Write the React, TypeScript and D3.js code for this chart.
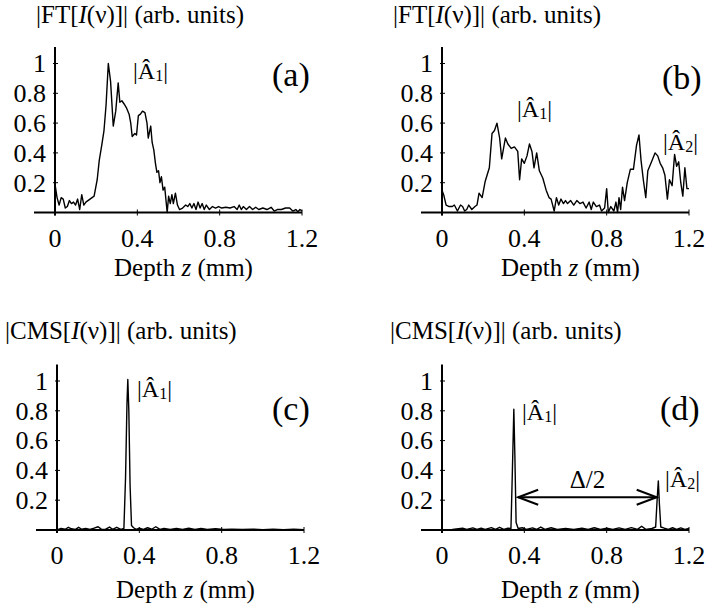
import React, { useEffect, useRef } from 'react';
import * as d3 from 'd3';

// [depth z (mm), amplitude]
const ftSingle: [number, number][] = [
  [0, 0.19], [0.01, 0.1], [0.02, 0.05], [0.03, 0.1], [0.04, 0.09], [0.05, 0.03], [0.06, 0.04], [0.07, 0.08],
  [0.08, 0.06], [0.09, 0.07], [0.1, 0.05], [0.11, 0.09], [0.12, 0.02], [0.13, 0.12], [0.14, 0.05], [0.15, 0.07],
  [0.17, 0.09], [0.19, 0.11], [0.205, 0.22], [0.215, 0.35], [0.227, 0.45], [0.238, 0.55], [0.248, 0.72],
  [0.259, 1.0], [0.27, 0.88], [0.283, 0.58], [0.295, 0.68], [0.307, 0.87], [0.315, 0.74], [0.325, 0.75],
  [0.335, 0.73], [0.348, 0.7], [0.36, 0.66], [0.368, 0.6], [0.375, 0.51], [0.388, 0.53], [0.396, 0.52],
  [0.405, 0.65], [0.415, 0.66], [0.425, 0.68], [0.437, 0.67], [0.447, 0.6], [0.453, 0.5], [0.465, 0.58],
  [0.472, 0.47], [0.48, 0.42], [0.488, 0.33], [0.495, 0.27], [0.503, 0.28], [0.51, 0.2], [0.517, 0.24],
  [0.525, 0.15], [0.533, 0.17], [0.545, 0.0], [0.552, 0.11], [0.56, 0.06], [0.568, 0.12], [0.575, 0.06],
  [0.585, 0.13], [0.595, 0.05], [0.605, 0.02], [0.62, 0.03], [0.635, 0.05], [0.645, 0.04], [0.655, 0.06],
  [0.665, 0.03], [0.675, 0.06], [0.685, 0.02], [0.695, 0.07], [0.705, 0.03], [0.715, 0.06], [0.725, 0.02],
  [0.735, 0.05], [0.75, 0.02], [0.765, 0.04], [0.78, 0.03], [0.795, 0.04], [0.81, 0.03], [0.83, 0.035],
  [0.85, 0.03], [0.87, 0.04], [0.885, 0.02], [0.895, 0.05], [0.905, 0.02], [0.915, 0.04], [0.93, 0.02],
  [0.945, 0.04], [0.96, 0.02], [0.975, 0.035], [0.99, 0.02], [1.01, 0.03], [1.03, 0.02], [1.05, 0.035],
  [1.065, 0.01], [1.08, 0.02], [1.1, 0.02], [1.12, 0.03], [1.14, 0.03], [1.155, 0.01], [1.17, 0.02],
  [1.18, 0.005], [1.19, 0.02], [1.2, 0.01],
];

const ftDouble: [number, number][] = [
  [0, 0.15], [0.008, 0.12], [0.02, 0.05], [0.035, 0.04], [0.05, 0.04], [0.06, 0.05], [0.075, 0.01],
  [0.09, 0.05], [0.1, 0.04], [0.11, 0.01], [0.12, 0.02], [0.13, 0.05], [0.145, 0.02], [0.16, 0.04],
  [0.17, 0.05], [0.18, 0.13], [0.195, 0.1], [0.21, 0.21], [0.23, 0.3], [0.243, 0.53], [0.255, 0.55],
  [0.267, 0.6], [0.28, 0.5], [0.29, 0.36], [0.308, 0.5], [0.32, 0.46], [0.336, 0.43], [0.352, 0.44],
  [0.368, 0.41], [0.377, 0.22], [0.387, 0.36], [0.4, 0.33], [0.413, 0.38], [0.425, 0.46], [0.437, 0.41],
  [0.447, 0.3], [0.46, 0.4], [0.473, 0.28], [0.49, 0.23], [0.506, 0.15], [0.52, 0.1], [0.53, 0.09],
  [0.545, 0.01], [0.556, 0.1], [0.567, 0.05], [0.578, 0.09], [0.59, 0.06], [0.6, 0.08], [0.61, 0.06],
  [0.625, 0.08], [0.64, 0.05], [0.655, 0.08], [0.67, 0.06], [0.685, 0.07], [0.7, 0.03], [0.715, 0.07],
  [0.725, 0.02], [0.735, 0.07], [0.75, 0.04], [0.765, 0.05], [0.775, 0.01], [0.79, 0.03], [0.8, 0.16],
  [0.808, 0.0], [0.82, 0.04], [0.835, 0.01], [0.845, 0.07], [0.853, 0.0], [0.86, 0.1], [0.868, 0.02],
  [0.877, 0.17], [0.887, 0.08], [0.9, 0.2], [0.915, 0.29], [0.93, 0.29], [0.945, 0.45], [0.957, 0.52],
  [0.967, 0.35], [0.978, 0.22], [0.99, 0.1], [1.0, 0.28], [1.018, 0.34], [1.035, 0.4], [1.048, 0.38],
  [1.06, 0.33], [1.072, 0.3], [1.083, 0.25], [1.095, 0.09], [1.105, 0.22], [1.118, 0.18], [1.13, 0.39],
  [1.14, 0.31], [1.15, 0.34], [1.16, 0.2], [1.17, 0.11], [1.18, 0.3], [1.19, 0.16], [1.2, 0.16],
];

const cmsSingle: [number, number][] = [
  [0, 0.0], [0.02, 0.01], [0.04, 0.005], [0.055, 0.018], [0.07, 0.008], [0.09, 0.004], [0.105, 0.018],
  [0.12, 0.005], [0.14, 0.01], [0.16, 0.004], [0.18, 0.012], [0.2, 0.022], [0.215, 0.006], [0.235, 0.004],
  [0.255, 0.02], [0.27, 0.004], [0.29, 0.018], [0.31, 0.004], [0.325, 0.01], [0.333, 0.35], [0.34, 0.85],
  [0.344, 1.01], [0.349, 0.8], [0.355, 0.3], [0.362, 0.03], [0.372, 0.015], [0.385, 0.004], [0.4, 0.012],
  [0.42, 0.004], [0.44, 0.015], [0.46, 0.005], [0.48, 0.022], [0.5, 0.004], [0.52, 0.01], [0.55, 0.004],
  [0.58, 0.01], [0.61, 0.004], [0.64, 0.012], [0.67, 0.004], [0.7, 0.01], [0.73, 0.003], [0.77, 0.008],
  [0.81, 0.003], [0.85, 0.006], [0.9, 0.003], [0.95, 0.006], [1.0, 0.002], [1.05, 0.006], [1.1, 0.002],
  [1.15, 0.005], [1.2, 0.002],
];

const cmsDouble: [number, number][] = [
  [0, 0.0], [0.05, 0.004], [0.1, 0.012], [0.12, 0.004], [0.15, 0.014], [0.17, 0.004], [0.19, 0.012],
  [0.21, 0.004], [0.24, 0.016], [0.26, 0.004], [0.28, 0.018], [0.3, 0.004], [0.32, 0.012], [0.335, 0.01],
  [0.342, 0.4], [0.349, 0.81], [0.354, 0.5], [0.36, 0.05], [0.37, 0.01], [0.39, 0.015], [0.41, 0.004],
  [0.44, 0.014], [0.46, 0.004], [0.48, 0.02], [0.5, 0.004], [0.53, 0.015], [0.56, 0.004], [0.6, 0.01],
  [0.64, 0.004], [0.68, 0.012], [0.71, 0.004], [0.74, 0.015], [0.77, 0.004], [0.8, 0.012], [0.83, 0.004],
  [0.86, 0.014], [0.89, 0.004], [0.92, 0.016], [0.95, 0.004], [0.97, 0.025], [0.99, 0.004], [1.02, 0.01],
  [1.038, 0.02], [1.045, 0.2], [1.051, 0.33], [1.056, 0.18], [1.063, 0.02], [1.08, 0.012], [1.1, 0.004],
  [1.12, 0.015], [1.14, 0.004], [1.16, 0.014], [1.18, 0.004], [1.2, 0.01],
];

const xTicks = [0, 0.4, 0.8, 1.2];
const yTicks = [0.2, 0.4, 0.6, 0.8, 1];
const xLabel = 'Depth z (mm)';

const panels = [
  { data: ftSingle, kind: 'FT', tag: '(a)', x0: 55, base: 212.5, titleX: 36, titleY: 23, tagX: 272, tagY: 86,
    amps: [{ n: '1', x: 133, y: 79 }], depthY: 276 },
  { data: ftDouble, kind: 'FT', tag: '(b)', x0: 442, base: 212.5, titleX: 393, titleY: 23, tagX: 662, tagY: 89,
    amps: [{ n: '1', x: 517, y: 117 }, { n: '2', x: 663, y: 150 }], depthY: 276 },
  { data: cmsSingle, kind: 'CMS', tag: '(c)', x0: 57, base: 530, titleX: 5, titleY: 339, tagX: 272, tagY: 420,
    amps: [{ n: '1', x: 137, y: 397 }], depthY: 598 },
  { data: cmsDouble, kind: 'CMS', tag: '(d)', x0: 442, base: 530, titleX: 390, titleY: 339, tagX: 660, tagY: 420,
    amps: [{ n: '1', x: 522, y: 420 }, { n: '2', x: 665, y: 487 }], depthY: 598, gap: [0.37, 1.043, 0.22] },
];

const FONT = '"Liberation Serif", "Times New Roman", serif';

const App = () => {
  const ref = useRef<SVGSVGElement>(null);

  useEffect(() => {
    const svg = d3.select(ref.current);
    svg.selectAll('*').remove();

    panels.forEach(p => {
      const x = d3.scaleLinear().domain([0, 1.2]).range([p.x0, p.x0 + 247]);
      const y = d3.scaleLinear().domain([0, 1]).range([p.base, p.base - 149]);
      const g = svg.append('g').attr('font-family', FONT).attr('fill', '#000');

      // title
      const t = g.append('text').attr('x', p.titleX).attr('y', p.titleY).attr('font-size', 25);
      t.append('tspan').text(`|${p.kind}[`);
      t.append('tspan').attr('font-style', 'italic').text('I');
      t.append('tspan').text('(ν)]| (arb. units)');

      // axes
      g.append('line').attr('x1', p.x0 - 21).attr('x2', x(1.2)).attr('y1', p.base).attr('y2', p.base)
        .attr('stroke', '#000').attr('stroke-width', 2);
      g.append('line').attr('x1', p.x0).attr('x2', p.x0).attr('y1', p.base + 3).attr('y2', y(1.11))
        .attr('stroke', '#000').attr('stroke-width', 2);

      yTicks.forEach(v => {
        g.append('line').attr('x1', p.x0 - 2).attr('x2', p.x0 + 3).attr('y1', y(v)).attr('y2', y(v))
          .attr('stroke', '#000').attr('stroke-width', 1);
        g.append('text').attr('x', p.x0 - 9).attr('y', y(v)).attr('dy', '0.34em').attr('text-anchor', 'end')
          .attr('font-size', 26).text(d3.format('~g')(v));
      });
      xTicks.forEach(v => {
        g.append('line').attr('x1', x(v)).attr('x2', x(v)).attr('y1', p.base - 3).attr('y2', p.base + 3)
          .attr('stroke', '#000').attr('stroke-width', 1);
        g.append('text').attr('x', x(v)).attr('y', p.base + 34).attr('text-anchor', 'middle')
          .attr('font-size', 26).text(d3.format('~g')(v));
      });

      const dl = g.append('text').attr('x', (x(0) + x(1.2)) / 2 + 5).attr('y', p.depthY)
        .attr('text-anchor', 'middle').attr('font-size', 25);
      const [w1, w2, w3] = xLabel.split(' ');
      dl.append('tspan').text(w1 + ' ');
      dl.append('tspan').attr('font-style', 'italic').text(w2);
      dl.append('tspan').text(' ' + w3);

      // curve
      const line = d3.line<[number, number]>().x(d => x(d[0])).y(d => y(d[1]));
      g.append('path').datum(p.data).attr('d', line).attr('fill', 'none').attr('stroke', '#000')
        .attr('stroke-width', 1.4).attr('stroke-linejoin', 'round');

      // panel tag and amplitude labels
      g.append('text').attr('x', p.tagX).attr('y', p.tagY).attr('font-size', 34).text(p.tag);
      p.amps.forEach(a => {
        const at = g.append('text').attr('x', a.x).attr('y', a.y).attr('font-size', 24);
        at.append('tspan').text('|Â');
        at.append('tspan').attr('font-size', 16).attr('dy', 2).text(a.n);
        at.append('tspan').attr('dy', -2).text('|');
      });

      if (p.gap) {
        const [za, zb, v] = p.gap;
        const x1 = x(za), x2 = x(zb), yy = y(v);
        g.append('line').attr('x1', x1).attr('x2', x2).attr('y1', yy).attr('y2', yy)
          .attr('stroke', '#000').attr('stroke-width', 2);
        g.append('path').attr('d', `M${x1 + 20},${yy - 7.5}L${x1},${yy}L${x1 + 20},${yy + 7.5}`)
          .attr('fill', 'none').attr('stroke', '#000').attr('stroke-width', 2);
        g.append('path').attr('d', `M${x2 - 20},${yy - 7.5}L${x2},${yy}L${x2 - 20},${yy + 7.5}`)
          .attr('fill', 'none').attr('stroke', '#000').attr('stroke-width', 2);
        g.append('text').attr('x', (x1 + x2) / 2).attr('y', yy - 9).attr('text-anchor', 'middle')
          .attr('font-size', 25).text('Δ/2');
      }
    });
  }, []);

  return (
    <svg ref={ref} width={705} height={612}
      style={{ position: 'absolute', left: 0, top: 0, display: 'block', background: '#fff' }} />
  );
};

export default App;
